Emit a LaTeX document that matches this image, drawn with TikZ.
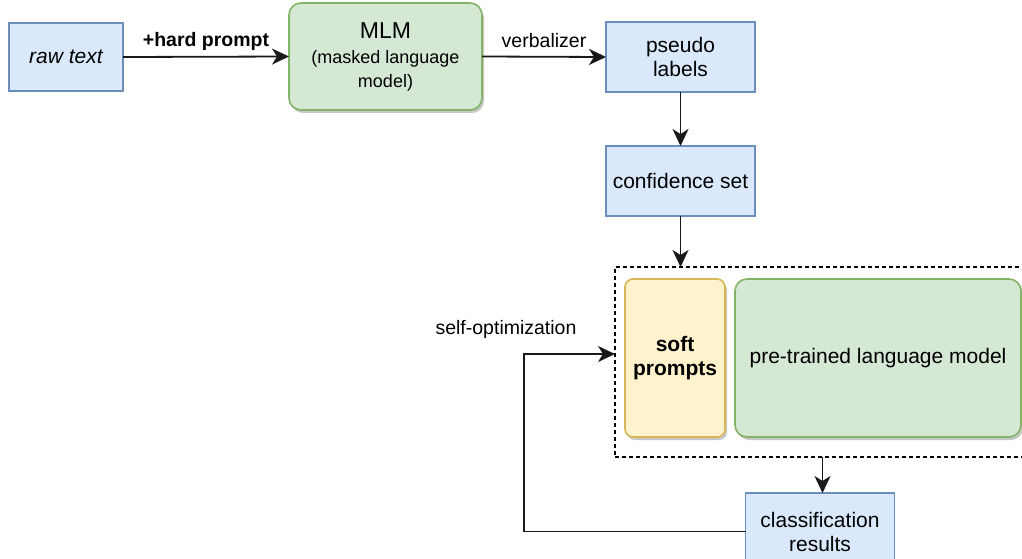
\documentclass[tikz,border=0pt]{standalone}
\usepackage{fontspec}
\setmainfont{Liberation Sans}
\usetikzlibrary{arrows.meta,shadows}
\definecolor{bfill}{HTML}{DAE8FC}
\definecolor{bline}{HTML}{6C8EBF}
\definecolor{gfill}{HTML}{D5E8D4}
\definecolor{gline}{HTML}{82B366}
\definecolor{yfill}{HTML}{FFF2CC}
\definecolor{yline}{HTML}{D6B656}
\begin{document}
\begin{tikzpicture}[x=1pt,y=-1pt,
  every node/.style={inner sep=0pt,outer sep=0pt},
  mainfont/.style={font=\fontsize{21}{24}\selectfont},
  bluebox/.style={draw=bline,fill=bfill,line width=1.6pt,mainfont,align=center},
  shad/.style={drop shadow={shadow xshift=2pt,shadow yshift=-3pt,opacity=0.22,fill=black}},
  greenbox/.style={draw=gline,fill=gfill,line width=1.6pt,rounded corners=12pt,shad,mainfont,align=center},
  yellowbox/.style={draw=yline,fill=yfill,line width=1.6pt,rounded corners=8pt,shad,mainfont,align=center},
  grpbox/.style={draw=black,line width=1.4pt,dash pattern=on 4pt off 3pt},
  conn/.style={draw=black!90,line width=1.8pt,-{Stealth[length=17pt,width=16pt,inset=5pt]}},
  elabel/.style={font=\fontsize{19.5}{22}\selectfont}
]
\clip (0,0) rectangle (1022,559);
\fill[white] (0,0) rectangle (1022,559);

\node[bluebox,minimum width=114pt,minimum height=68pt] (raw) at (66,57) {\itshape raw text};
\node[greenbox,minimum width=193pt,minimum height=107pt] (mlm) at (385.5,56.5)
  {{\fontsize{23}{25}\selectfont MLM}\\[1pt]{\fontsize{18}{20}\selectfont (masked language}\\{\fontsize{18}{20}\selectfont model)}};
\node[bluebox,minimum width=149pt,minimum height=70pt] (pseudo) at (680.5,57) {pseudo\\labels};
\node[bluebox,minimum width=149pt,minimum height=70pt] (conf) at (680.5,181) {confidence set};

\node[grpbox,minimum width=415pt,minimum height=190pt] (grp) at (822.5,362) {};
\node[yellowbox,minimum width=100pt,minimum height=158pt] (soft) at (675,358) {\bfseries soft\\\bfseries prompts};
\node[greenbox,minimum width=286pt,minimum height=158pt] (plm) at (878,358) {pre-trained language model};

\node[bluebox,minimum width=149pt,minimum height=77pt] (cls) at (820,531.5) {classification\\results};

\coordinate (fb) at (524,354);

\draw[conn] (raw.east) -- node[above=6pt,font=\fontsize{19.5}{22}\selectfont\bfseries] (lhard) {+hard prompt} (mlm.west);
\draw[conn] (mlm.east) -- node[elabel,above=9pt] (lverb) {verbalizer} (pseudo.west);
\draw[conn] (pseudo.south) -- (conf.north);
\draw[conn] (conf.south) -- (conf.south |- grp.north);
\draw[conn] (grp.south) -- (grp.south |- cls.north);
\draw[conn] (cls.west) -| (fb) -- (fb -| grp.west);
\node[elabel] (lself) at (506,329) {self-optimization};
\end{tikzpicture}
\end{document}
